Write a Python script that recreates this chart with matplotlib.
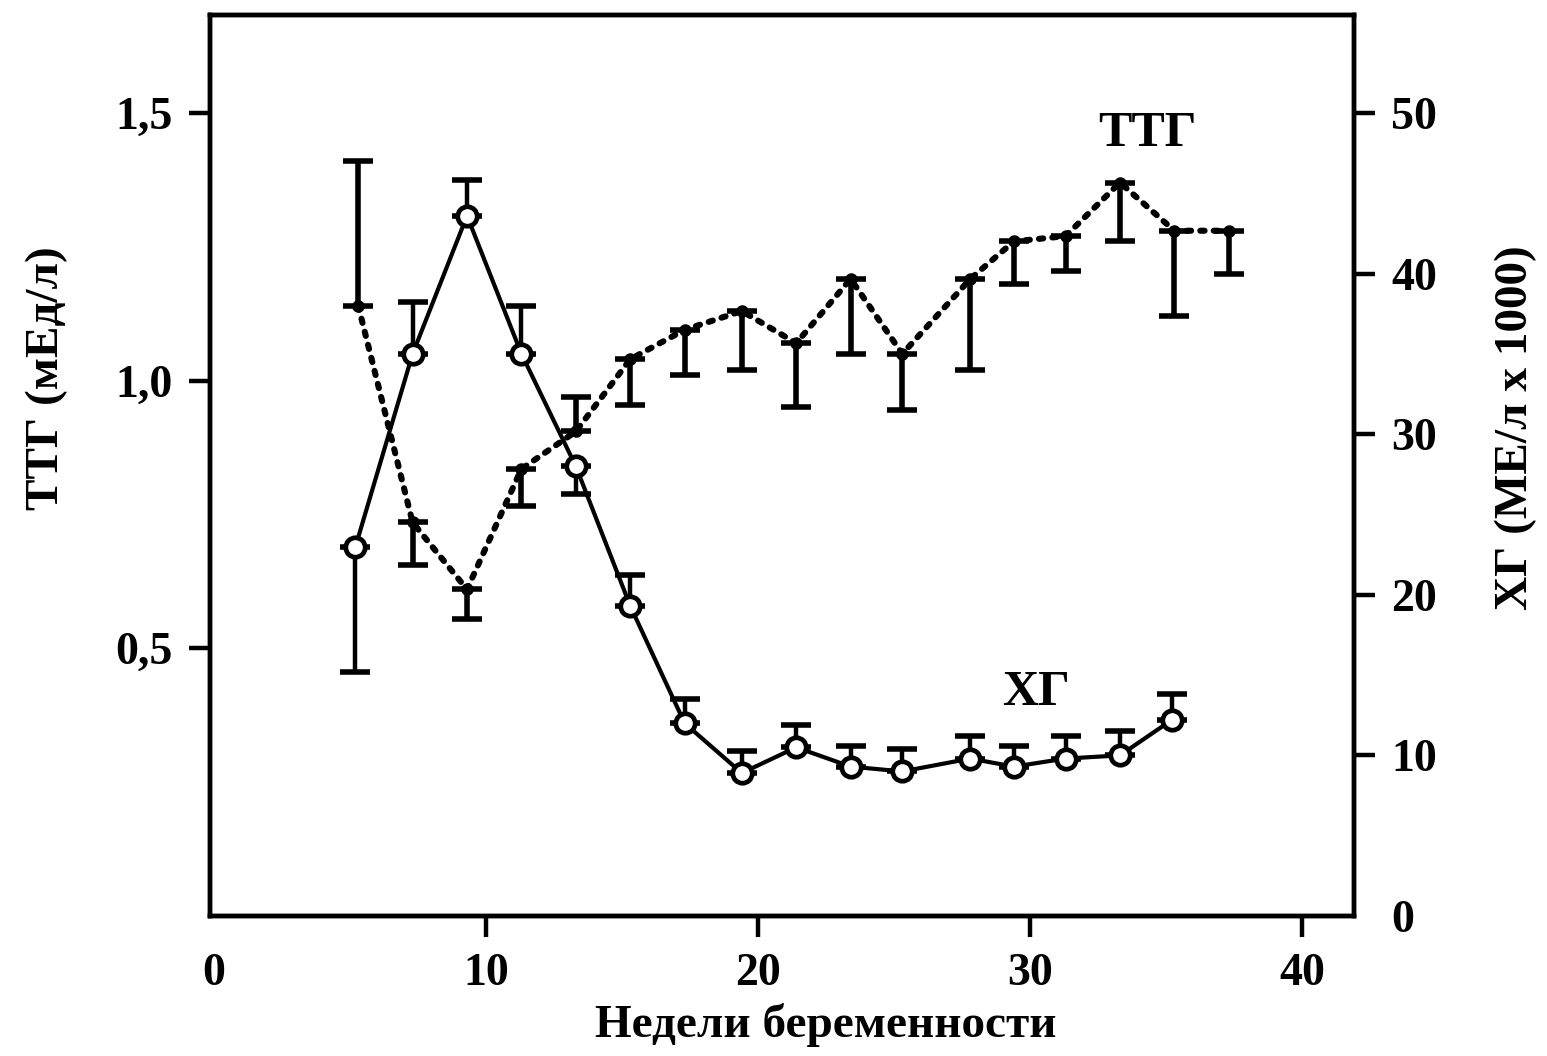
import matplotlib
matplotlib.use("Agg")
from matplotlib import pyplot as plt
from matplotlib.ticker import FuncFormatter

# ТТГ (left axis, mЕд/л)
weeks_tsh = [5.3, 7.3, 9.3, 11.3, 13.3, 15.3, 17.3, 19.4, 21.4, 23.4, 25.3, 27.8, 29.4, 31.3, 33.3, 35.3, 37.3]
tsh = [1.14, 0.735, 0.61, 0.835, 0.905, 1.04, 1.095, 1.13, 1.07, 1.19, 1.05, 1.19, 1.26, 1.27, 1.37, 1.28, 1.28]
tsh_err_lo = [0, 0.08, 0.055, 0.07, 0, 0.085, 0.085, 0.11, 0.12, 0.14, 0.105, 0.17, 0.08, 0.065, 0.11, 0.16, 0.08]
tsh_err_hi = [0.27, 0, 0, 0, 0.065, 0, 0, 0, 0, 0, 0, 0, 0, 0, 0, 0, 0]

# ХГ (right axis, МЕ/л x 1000)
weeks_hcg = [5.2, 7.3, 9.3, 11.3, 13.3, 15.3, 17.3, 19.4, 21.4, 23.4, 25.3, 27.8, 29.4, 31.3, 33.3, 35.2]
hcg = [23.0, 35.0, 43.6, 35.0, 28.0, 19.3, 12.0, 8.9, 10.5, 9.3, 9.0, 9.8, 9.3, 9.8, 10.0, 12.2]
hcg_err_lo = [7.8, 0, 0, 0, 1.7, 0, 0, 0, 0, 0, 0, 0, 0, 0, 0, 0]
hcg_err_hi = [0, 3.2, 2.2, 3.0, 0, 1.9, 1.5, 1.4, 1.4, 1.3, 1.4, 1.4, 1.3, 1.4, 1.5, 1.6]

x_ticks = [0, 10, 20, 30, 40]
left_ticks = [0.5, 1.0, 1.5]
right_ticks = [0, 10, 20, 30, 40, 50]

plt.rcParams['font.family'] = ['Liberation Serif', 'DejaVu Serif']
plt.rcParams['font.weight'] = 'bold'
plt.rcParams['axes.labelweight'] = 'bold'

fig = plt.figure(figsize=(15.47, 10.56), dpi=100)
ax = fig.add_axes([0.1357, 0.1326, 0.7395, 0.8532])
ax2 = ax.twinx()

# ТТГ: dotted line, small filled markers, one-sided error bars
ax.errorbar(weeks_tsh, tsh, yerr=[tsh_err_lo, tsh_err_hi], fmt='none',
            ecolor='black', elinewidth=4, capsize=11, capthick=4, zorder=3)
ax.plot(weeks_tsh, tsh, color='black', linestyle=(0, (0.7, 1.5)), linewidth=4.4,
        dash_capstyle='round', zorder=2)
ax.plot(weeks_tsh, tsh, linestyle='none', marker='o', markersize=8,
        color='black', zorder=4)

# ХГ: solid line, open circles
ax2.errorbar(weeks_hcg, hcg, yerr=[hcg_err_lo, hcg_err_hi], fmt='none',
             ecolor='black', elinewidth=3.2, capsize=11, capthick=4, zorder=3)
ax2.plot(weeks_hcg, hcg, color='black', linewidth=3, marker='o', markersize=14,
         markerfacecolor='white', markeredgecolor='black', markeredgewidth=3.4, zorder=4)

ax.set_xlim(-0.15, 41.9)
ax.set_ylim(0, 1.683)
ax2.set_ylim(0, 56.1)

ax.set_xticks(x_ticks)
ax.set_yticks(left_ticks)
ax2.set_yticks(right_ticks)
ax.yaxis.set_major_formatter(FuncFormatter(lambda v, p: f'{v:.1f}'.replace('.', ',')))

for a in (ax, ax2):
    for s in a.spines.values():
        s.set_linewidth(3.2)
    a.tick_params(axis='both', direction='out', length=15, width=3.2,
                  labelsize=33, pad=12)
ax.xaxis.get_major_ticks()[0].tick1line.set_visible(False)
ax2.yaxis.get_major_ticks()[0].tick2line.set_visible(False)

ax.set_xlabel('Недели беременности', fontsize=34)
ax.set_ylabel('ТТГ (мЕд/л)', fontsize=34)
ax2.set_ylabel('ХГ (МЕ/л х 1000)', fontsize=34, rotation=90)
ax.xaxis.set_label_coords(0.538, -0.097)
ax.yaxis.set_label_coords(-0.124, 0.597)
ax2.yaxis.set_label_coords(1.123, 0.542)

ax.text(34.3, 1.46, 'ТТГ', fontsize=36, ha='center', va='center')
ax2.text(30.2, 13.9, 'ХГ', fontsize=36, ha='center', va='center')

fig.savefig('out.png', dpi=100)
